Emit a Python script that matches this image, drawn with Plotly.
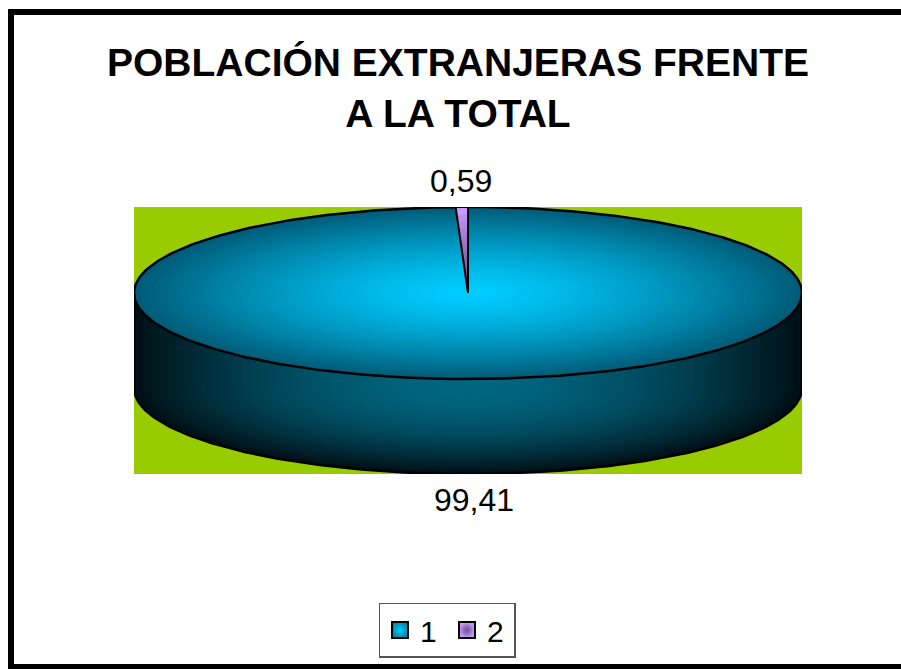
import numpy as np
import plotly.graph_objects as go

# Data
categories = ["1", "2"]
values = [99.41, 0.59]
value_labels = ["99,41", "0,59"]
title_lines = ["POBLACIÓN EXTRANJERAS FRENTE", "A LA TOTAL"]

# Geometry / style (axis units are pixels of the plot area)
RX, RY, DEPTH = 334.0, 86.0, 95.0
W, H = 901, 669
L, R, T, B = 134, 802, 207, 474
FONT = "Liberation Sans, Arial, sans-serif"


def lerp(c0, c1, t):
    return "rgb(%d,%d,%d)" % tuple(round(a + (b - a) * t) for a, b in zip(c0, c1))


fig = go.Figure()


def poly(x, y, fill):
    fig.add_trace(go.Scatter(
        x=x, y=y, mode="lines", fill="toself", fillcolor=fill,
        line=dict(color=fill, width=0),
        showlegend=False, hoverinfo="skip"))


theta = np.linspace(0, 2 * np.pi, 361)
lower = np.linspace(np.pi, 2 * np.pi, 181)
upper = np.linspace(0, np.pi, 181)

# Side wall: nested extruded ellipses
N = 40
for i in range(N):
    k = 1 - i / N
    c = lerp((0, 102, 128), (0, 16, 22), k ** 1.9)
    x = np.r_[k * RX * np.cos(upper), k * RX * np.cos(lower)]
    y = np.r_[k * RY * np.sin(upper), k * RY * np.sin(lower) - DEPTH]
    poly(x, y, c)

# Top face: nested ellipses
N = 50
for i in range(N):
    k = 1 - i / N
    c = lerp((0, 204, 255), (0, 92, 120), k ** 1.4)
    poly(k * RX * np.cos(theta), k * RY * np.sin(theta), c)

# Outlines
fig.add_trace(go.Scatter(
    x=np.r_[RX * np.cos(lower), [RX], [None], [-RX], [-RX]],
    y=np.r_[RY * np.sin(lower) - DEPTH, [0], [None], [-DEPTH], [0]],
    mode="lines", line=dict(color="black", width=2.5),
    showlegend=False, hoverinfo="skip"))
fig.add_trace(go.Scatter(
    x=RX * np.cos(theta), y=RY * np.sin(theta), mode="lines",
    line=dict(color="black", width=2.5), showlegend=False, hoverinfo="skip"))

# Small slice, angle taken from the values
share = values[1] / sum(values)
a0 = np.pi / 2
a1 = a0 + 2 * np.pi * share
arc = np.linspace(a0, a1, 8)
for i in range(12):
    k = 1 - i / 12
    c = lerp((110, 80, 140), (204, 153, 255), k ** 1.5)
    poly(np.r_[0, k * RX * np.cos(arc), 0], np.r_[0, k * RY * np.sin(arc), 0], c)
fig.add_trace(go.Scatter(
    x=np.r_[0, RX * np.cos(arc), 0], y=np.r_[0, RY * np.sin(arc), 0],
    mode="lines", line=dict(color="black", width=2),
    showlegend=False, hoverinfo="skip"))

# Legend
for name, col, centre in zip(categories, ["#0088AA", "#CC99FF"], ["#00CCFF", "#66508C"]):
    fig.add_trace(go.Scatter(
        x=[None], y=[None], mode="markers", name=name,
        marker=dict(symbol="square", size=16, color=col,
                    gradient=dict(type="radial", color=centre),
                    line=dict(color="black", width=2))))


def px(v):
    return (v - L) / (R - L)


def py(v):
    return (B - v) / (B - T)


label_font = dict(family=FONT, size=32, color="black")

fig.update_layout(
    width=W, height=H, autosize=False,
    margin=dict(l=L, r=W - R, t=T, b=H - B),
    paper_bgcolor="white", plot_bgcolor="#99CC00",
    xaxis=dict(range=[-RX, RX], visible=False, fixedrange=True),
    yaxis=dict(range=[-RY - DEPTH, RY], visible=False, fixedrange=True),
    title=dict(text="<br>".join(title_lines),
               font=dict(family=FONT, size=39, color="black", weight="bold"),
               x=458 / W, xanchor="center", y=1 - 76 / H, yanchor="middle"),
    legend=dict(orientation="h", x=px(447), xanchor="center", y=py(630), yanchor="middle",
                font=dict(family=FONT, size=30, color="black"),
                bgcolor="white", bordercolor="#555555", borderwidth=1.5,
                itemsizing="trace", itemwidth=30, entrywidth=22, entrywidthmode="pixels",
                traceorder="normal"),
    annotations=[
        dict(x=-7, y=RY, text=value_labels[1], showarrow=False, font=label_font,
             xanchor="center", yanchor="bottom", yshift=6),
        dict(x=6, y=-RY - DEPTH, text=value_labels[0], showarrow=False, font=label_font,
             xanchor="center", yanchor="top", yshift=-6),
    ],
    shapes=[dict(type="rect", xref="paper", yref="paper",
                 x0=px(11), x1=px(910), y0=py(12), y1=py(667),
                 line=dict(color="black", width=6), layer="above")],
)

fig.write_html("out.html", post_script="document.body.style.margin='0';document.body.style.overflow='hidden';",
               config=dict(displayModeBar=False))
